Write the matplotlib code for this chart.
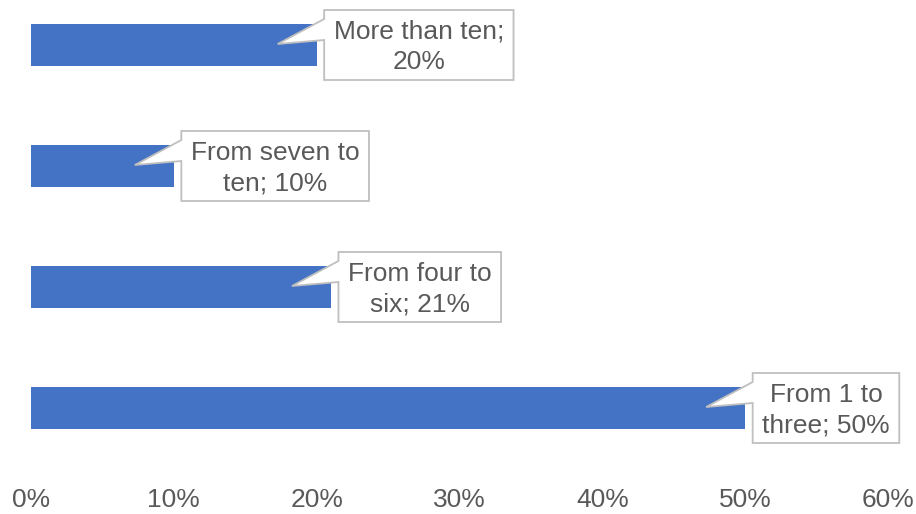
import matplotlib
matplotlib.use("Agg")
import matplotlib.pyplot as plt
from matplotlib.patches import Polygon
from matplotlib.ticker import PercentFormatter

categories = ["From 1 to three", "From four to six", "From seven to ten", "More than ten"]
values = [0.50, 0.21, 0.10, 0.20]
label_texts = ["From 1 to\nthree; 50%", "From four to\nsix; 21%", "From seven to\nten; 10%", "More than ten;\n20%"]
xticks = [0, 0.1, 0.2, 0.3, 0.4, 0.5, 0.6]

plt.rcParams['font.family'] = ['Liberation Sans', 'DejaVu Sans']
DPI = 100
W, H = 916, 514
fig = plt.figure(figsize=(W / DPI, H / DPI), dpi=DPI)
left = 31 / W
right = 888 / W
bottom = (H - 468.5) / H
top = (H + 15.5) / H
ax = fig.add_axes([left, bottom, right - left, top - bottom])

ypos = list(range(len(categories)))
ax.barh(ypos, values, height=0.35, color="#4472C4")
ax.set_xlim(0, 0.6)
ax.set_ylim(-0.5, len(categories) - 0.5)
ax.set_xticks(xticks)
ax.xaxis.set_major_formatter(PercentFormatter(1.0, decimals=0))
ax.tick_params(axis='x', length=0, pad=14, labelsize=19, labelcolor="#595959")
ax.set_yticks([])
for s in ax.spines.values():
    s.set_visible(False)

fig.canvas.draw()
renderer = fig.canvas.get_renderer()

for y, v, txt in zip(ypos, values, label_texts):
    ex, ey = ax.transData.transform((v, y))  # display pixels, origin bottom-left
    box_h = 70
    box_left = ex + 7.5
    box_top = ey + box_h / 2
    pad = 9.5
    t = fig.text(box_left + pad, ey - 2, txt, transform=None, ha='left', va='center',
                 multialignment='center', fontsize=19, color="#595959",
                 linespacing=1.32, zorder=6)
    bb = t.get_window_extent(renderer)
    box_w = bb.width + 2 * pad
    tip = (ex - 39, ey + 1)
    verts = [
        (box_left, box_top),
        (box_left + box_w, box_top),
        (box_left + box_w, box_top - box_h),
        (box_left, box_top - box_h),
        (box_left, box_top - 30),
        tip,
        (box_left, box_top - 9),
    ]
    poly = Polygon(verts, closed=True, facecolor="white", edgecolor="#BFBFBF",
                   linewidth=1.3, transform=None, zorder=5)
    fig.patches.append(poly)

fig.savefig("out.png", dpi=DPI)
